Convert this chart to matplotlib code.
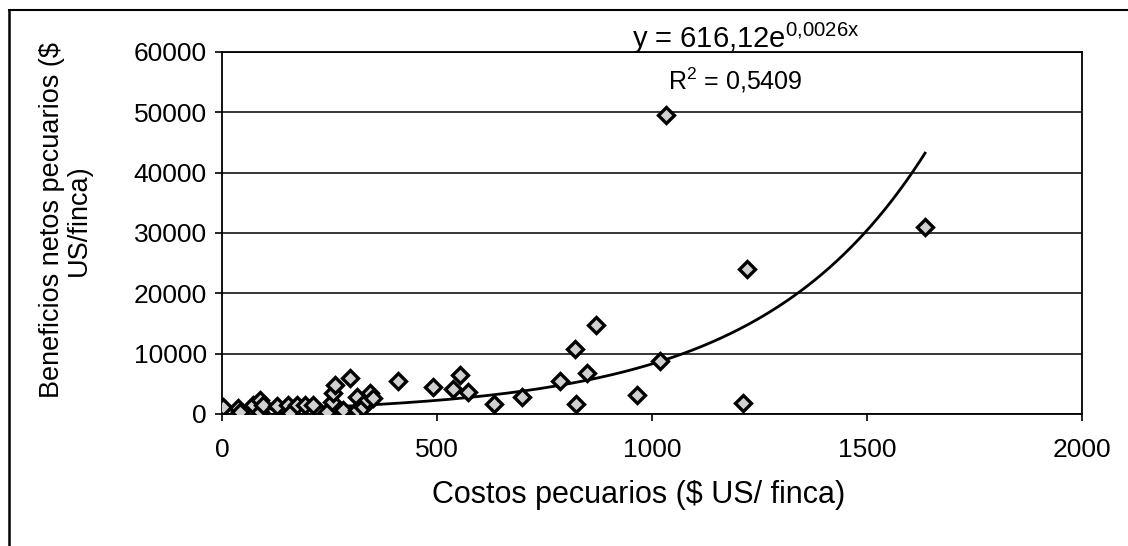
import numpy as np
import matplotlib
matplotlib.use("Agg")
import matplotlib.pyplot as plt
from matplotlib.lines import Line2D

plt.rcParams["font.family"] = ["Liberation Sans", "DejaVu Sans"]
plt.rcParams["mathtext.fontset"] = "custom"
plt.rcParams["mathtext.rm"] = "Liberation Sans"
plt.rcParams["mathtext.it"] = "Liberation Sans"

# costos pecuarios ($ US/finca) vs beneficios netos ($ US/finca)
costos = [2, 37, 42, 72, 88, 88, 95, 128, 153, 158, 174, 193, 212, 244,
          256, 258, 263, 281, 298, 314, 314, 328, 337, 344, 351,
          409, 491, 538, 553, 572, 632, 697, 786, 822, 823, 849, 870,
          965, 1019, 1032, 1212, 1221, 1635]
beneficios = [1200, 1000, 300, 1500, 2300, 300, 1500, 1300, 1500, 200, 1500, 1500, 1500, 300,
              2000, 3500, 4800, 600, 6000, 2800, 600, 1200, 2300, 3500, 2600,
              5500, 4500, 4100, 6400, 3600, 1600, 2800, 5400, 10700, 1600, 6800, 14700,
              3100, 8700, 49600, 1800, 24000, 31000]

# ajuste exponencial y = a*e^(b*x)
a_coef = 616.12
b_coef = 0.0026
r2 = 0.5409

fig = plt.figure(figsize=(11.28, 5.46), dpi=100)
ax = fig.add_axes([0.1968, 0.2418, 0.7624, 0.663])

xs = np.linspace(min(costos), max(costos), 300)
ax.plot(xs, a_coef * np.exp(b_coef * xs), color="black", lw=2.0, zorder=3)
ax.plot(costos, beneficios, linestyle="none", marker="D", markersize=8.5,
        markerfacecolor="#d0d0d0", markeredgecolor="black", markeredgewidth=2.4, zorder=4)

ax.set_xlim(0, 2000)
ax.set_ylim(0, 60000)
ax.set_xticks([0, 500, 1000, 1500, 2000])
ax.set_yticks(range(0, 60001, 10000))
ax.yaxis.grid(True, color="black", lw=1.1)
ax.set_axisbelow(True)
for s in ax.spines.values():
    s.set_color("black")
    s.set_linewidth(1.3)
ax.tick_params(axis="both", direction="out", length=5, width=1.2, labelsize=19, colors="black")
ax.tick_params(axis="x", pad=12)
ax.tick_params(axis="y", pad=6)

ax.set_xlabel("Costos pecuarios ($ US/ finca)", fontsize=22, labelpad=13)
ax.set_ylabel("Beneficios netos pecuarios ($\nUS/finca)", fontsize=19.5, labelpad=30,
              multialignment="center", linespacing=1.05)
ax.xaxis.label.set_x(0.485)
ax.yaxis.label.set_y(0.535)

fig.text(0.661, 0.93, r"y = 616,12e$^{0{,}0026x}$", fontsize=21, ha="center", va="center")
fig.text(0.652, 0.853, r"R$^{2}$ = 0,5409", fontsize=18, ha="center", va="center")

# marco exterior (solo bordes superior e izquierdo)
fig.add_artist(Line2D([0.008, 1.0], [0.982, 0.982], color="black", lw=1.5))
fig.add_artist(Line2D([0.008, 0.008], [0.0, 0.982], color="black", lw=1.8))

fig.savefig("out.png", dpi=100, facecolor="white")
